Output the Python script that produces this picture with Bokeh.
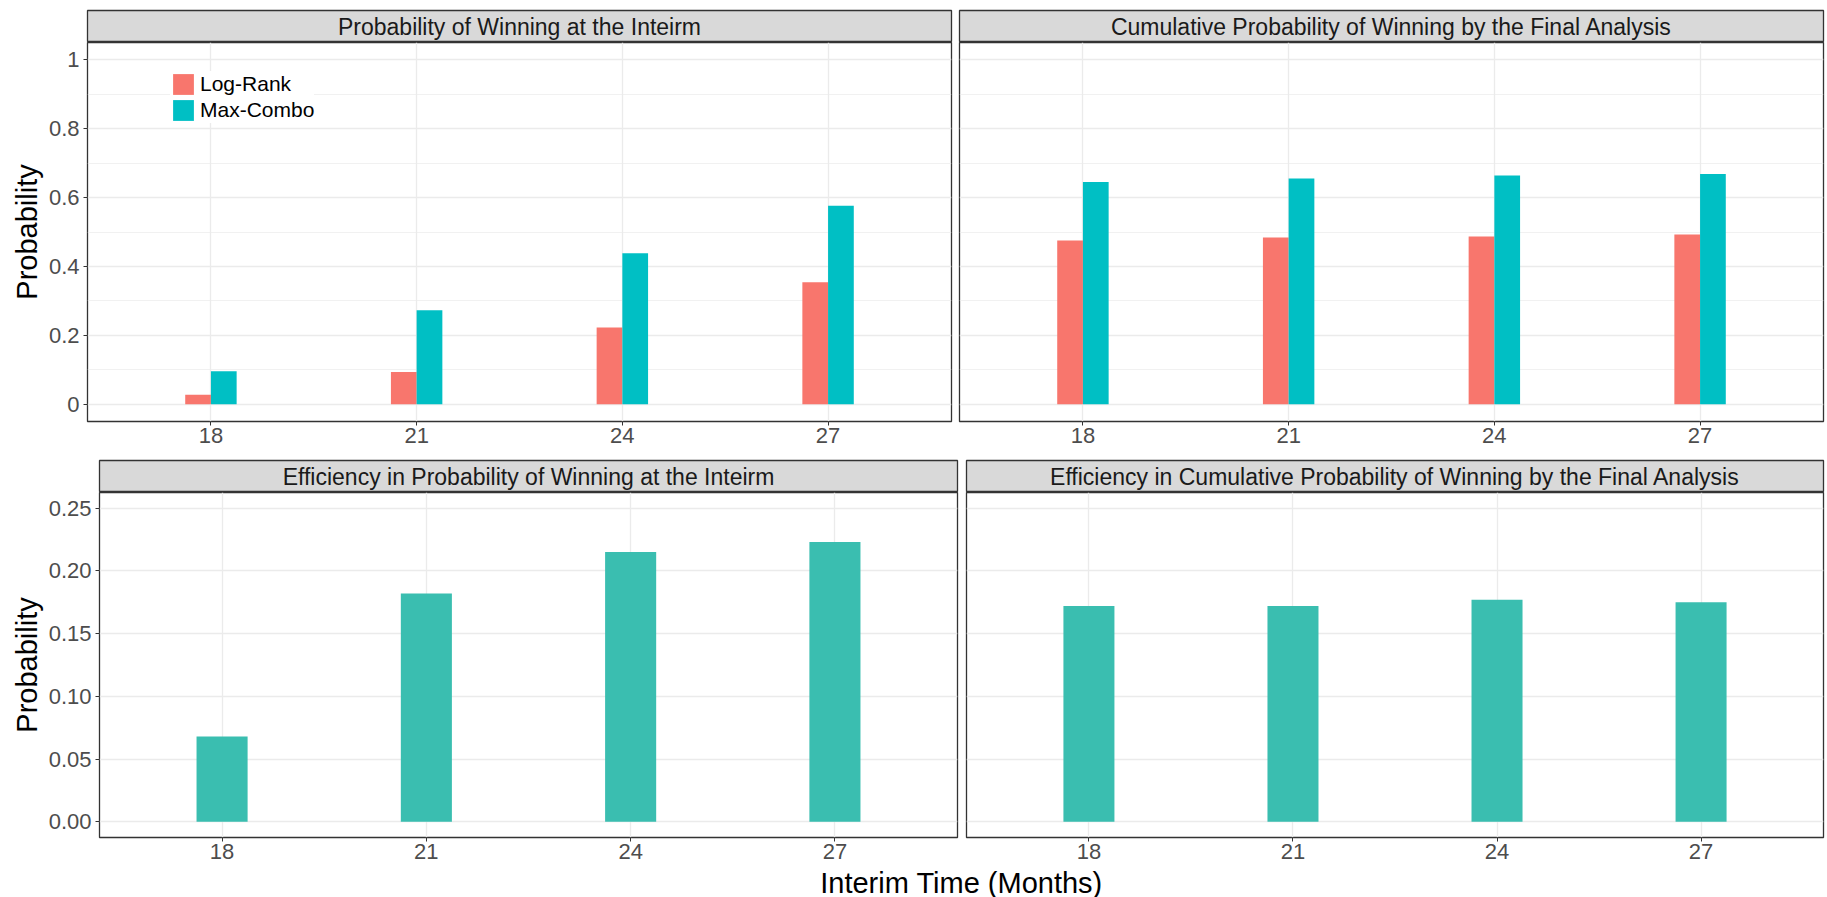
from bokeh.plotting import figure
from bokeh.layouts import column, row
from bokeh.models import (Range1d, FixedTicker, Label, Legend, LegendItem,
                          ColumnDataSource, CustomJSTickFormatter)
from bokeh.transform import dodge
from bokeh.embed import file_html
from bokeh.resources import INLINE

# ---- data -------------------------------------------------------------
months = [18, 21, 24, 27]

logrank_interim = [0.028, 0.094, 0.223, 0.354]
maxcombo_interim = [0.096, 0.273, 0.438, 0.576]

logrank_final = [0.475, 0.484, 0.487, 0.493]
maxcombo_final = [0.645, 0.655, 0.664, 0.668]

efficiency_interim = [0.068, 0.182, 0.215, 0.223]
efficiency_final = [0.172, 0.172, 0.177, 0.175]

top_ticks = [0, 0.2, 0.4, 0.6, 0.8, 1.0]
top_tick_labels = ["0", "0.2", "0.4", "0.6", "0.8", "1"]
top_minor_ticks = [0.1, 0.3, 0.5, 0.7, 0.9]

bottom_ticks = [0, 0.05, 0.10, 0.15, 0.20, 0.25]
bottom_tick_labels = ["0.00", "0.05", "0.10", "0.15", "0.20", "0.25"]

strip_titles = [
    "Probability of Winning at the Inteirm",
    "Cumulative Probability of Winning by the Final Analysis",
    "Efficiency in Probability of Winning at the Inteirm",
    "Efficiency in Cumulative Probability of Winning by the Final Analysis",
]
series_names = ["Log-Rank", "Max-Combo"]

# ---- style ------------------------------------------------------------
FONT = "Liberation Sans"
RED = "#F8766D"
CYAN = "#00BFC4"
TEAL = "#3ABEB0"
GRID = "#EBEBEB"
BORDER = "#333333"
BAR_W = 0.75
TICK_SIZE = "22px"
STRIP_SIZE = "23px"
TITLE_SIZE = "29px"


def tick_formatter(ticks, labels):
    return CustomJSTickFormatter(
        args=dict(t=ticks, l=labels),
        code="const i = t.findIndex(v => Math.abs(v - tick) < 1e-9); return i >= 0 ? l[i] : '';",
    )


def strip(width, left, right, top, text):
    s = figure(width=width, height=32 + top, x_range=Range1d(0, 1), y_range=Range1d(0, 1),
               min_border_left=left, min_border_right=right, min_border_top=top,
               min_border_bottom=0, x_axis_location=None, y_axis_location=None,
               output_backend="svg", toolbar_location=None)
    s.grid.visible = False
    s.background_fill_color = "#D9D9D9"
    s.border_fill_color = "white"
    s.outline_line_color = BORDER
    s.outline_line_width = 1.3
    s.add_layout(Label(x=0.5, y=0.5, text=text, text_align="center", text_baseline="middle",
                       text_font=FONT, text_font_size=STRIP_SIZE, text_color="#1A1A1A"))
    return s


def panel(width, height, left, right, bottom, y_range, ticks, labels, minor, with_yaxis):
    p = figure(width=width, height=height, x_range=Range1d(16.2, 28.8), y_range=y_range,
               min_border_left=left, min_border_right=right, min_border_top=0,
               min_border_bottom=bottom, y_axis_location="left" if with_yaxis else None,
               output_backend="svg", toolbar_location=None)
    p.background_fill_color = "white"
    p.border_fill_color = "white"
    p.outline_line_color = BORDER
    p.outline_line_width = 1.3

    p.xaxis.ticker = FixedTicker(ticks=months)
    p.xaxis.axis_line_color = None
    p.xaxis.major_tick_line_color = BORDER
    p.xaxis.major_tick_out = 4
    p.xaxis.major_tick_in = 0
    p.xaxis.minor_tick_line_color = None
    p.xaxis.major_label_standoff = 2
    p.xaxis.major_label_text_font = FONT
    p.xaxis.major_label_text_font_size = TICK_SIZE
    p.xaxis.major_label_text_color = "#4D4D4D"

    if with_yaxis:
        p.yaxis.ticker = FixedTicker(ticks=ticks, minor_ticks=minor)
        p.yaxis.formatter = tick_formatter(ticks, labels)
        p.yaxis.axis_line_color = None
        p.yaxis.major_tick_line_color = BORDER
        p.yaxis.major_tick_out = 4
        p.yaxis.major_tick_in = 0
        p.yaxis.minor_tick_line_color = None
        p.yaxis.major_label_standoff = 4
        p.yaxis.major_label_text_font = FONT
        p.yaxis.major_label_text_font_size = TICK_SIZE
        p.yaxis.major_label_text_color = "#4D4D4D"
        p.yaxis.axis_label = "Probability"
        p.yaxis.axis_label_text_font = FONT
        p.yaxis.axis_label_text_font_size = TITLE_SIZE
        p.yaxis.axis_label_text_font_style = "normal"
        p.yaxis.axis_label_text_color = "black"
        p.yaxis.axis_label_standoff = 3

    p.xgrid.ticker = FixedTicker(ticks=months)
    p.xgrid.grid_line_color = GRID
    p.xgrid.grid_line_width = 1.3
    p.ygrid.ticker = FixedTicker(ticks=ticks, minor_ticks=minor)
    p.ygrid.grid_line_color = GRID
    p.ygrid.grid_line_width = 1.3
    p.ygrid.minor_grid_line_color = GRID if minor else None
    p.ygrid.minor_grid_line_width = 0.7
    return p


top_range = Range1d(-0.05, 1.05)
bottom_range = Range1d(-0.0125, 0.2625)

# ---- top row: dodged bars ---------------------------------------------
src_interim = ColumnDataSource(dict(month=months, lr=logrank_interim, mc=maxcombo_interim))
src_final = ColumnDataSource(dict(month=months, lr=logrank_final, mc=maxcombo_final))

tl = panel(955, 417, 87, 4, 38, top_range, top_ticks, top_tick_labels, top_minor_ticks, True)
tr = panel(872, 417, 4, 4, 38, top_range, top_ticks, top_tick_labels, top_minor_ticks, False)

legend_renderers = []
for p, src in ((tl, src_interim), (tr, src_final)):
    r_lr = p.vbar(x=dodge("month", -BAR_W / 4), top="lr", bottom=0, width=BAR_W / 2,
                  source=src, fill_color=RED, line_color=None)
    r_mc = p.vbar(x=dodge("month", BAR_W / 4), top="mc", bottom=0, width=BAR_W / 2,
                  source=src, fill_color=CYAN, line_color=None)
    if p is tl:
        legend_renderers = [r_lr, r_mc]

legend = Legend(items=[LegendItem(label=series_names[0], renderers=[legend_renderers[0]]),
                       LegendItem(label=series_names[1], renderers=[legend_renderers[1]])],
                location=(83, 298), orientation="vertical",
                glyph_width=26, glyph_height=26, label_height=24, spacing=0,
                padding=14, margin=0, label_standoff=4,
                label_text_font=FONT, label_text_font_size="21px", label_text_color="black",
                background_fill_color="white", background_fill_alpha=1.0,
                border_line_color=None)
tl.add_layout(legend)

# ---- bottom row: efficiency bars --------------------------------------
src_eff_interim = ColumnDataSource(dict(month=months, eff=efficiency_interim))
src_eff_final = ColumnDataSource(dict(month=months, eff=efficiency_final))

bl = panel(961, 376, 99, 4, 31, bottom_range, bottom_ticks, bottom_tick_labels, [], True)
br = panel(866, 376, 5, 4, 31, bottom_range, bottom_ticks, bottom_tick_labels, [], False)
for p, src in ((bl, src_eff_interim), (br, src_eff_final)):
    p.vbar(x="month", top="eff", bottom=0, width=BAR_W, source=src,
           fill_color=TEAL, line_color=None)

# ---- facet strips ------------------------------------------------------
s_tl = strip(955, 87, 4, 10, strip_titles[0])
s_tr = strip(872, 4, 4, 10, strip_titles[1])
s_bl = strip(961, 99, 4, 1, strip_titles[2])
s_br = strip(866, 5, 4, 1, strip_titles[3])

# ---- shared x-axis title ----------------------------------------------
xt = figure(width=1827, height=29, x_range=Range1d(0, 1827), y_range=Range1d(0, 29),
            min_border_left=0, min_border_right=0, min_border_top=0, min_border_bottom=0,
            x_axis_location=None, y_axis_location=None,
            output_backend="svg", toolbar_location=None)
xt.grid.visible = False
xt.outline_line_color = None
xt.background_fill_color = "white"
xt.border_fill_color = "white"
xt.add_layout(Label(x=961, y=15, text="Interim Time (Months)", text_align="center",
                    text_baseline="middle", text_font=FONT, text_font_size=TITLE_SIZE,
                    text_color="black"))

layout = column(row(s_tl, s_tr), row(tl, tr), row(s_bl, s_br), row(bl, br), xt)

with open("out.html", "w") as f:
    f.write(file_html(layout, INLINE))
